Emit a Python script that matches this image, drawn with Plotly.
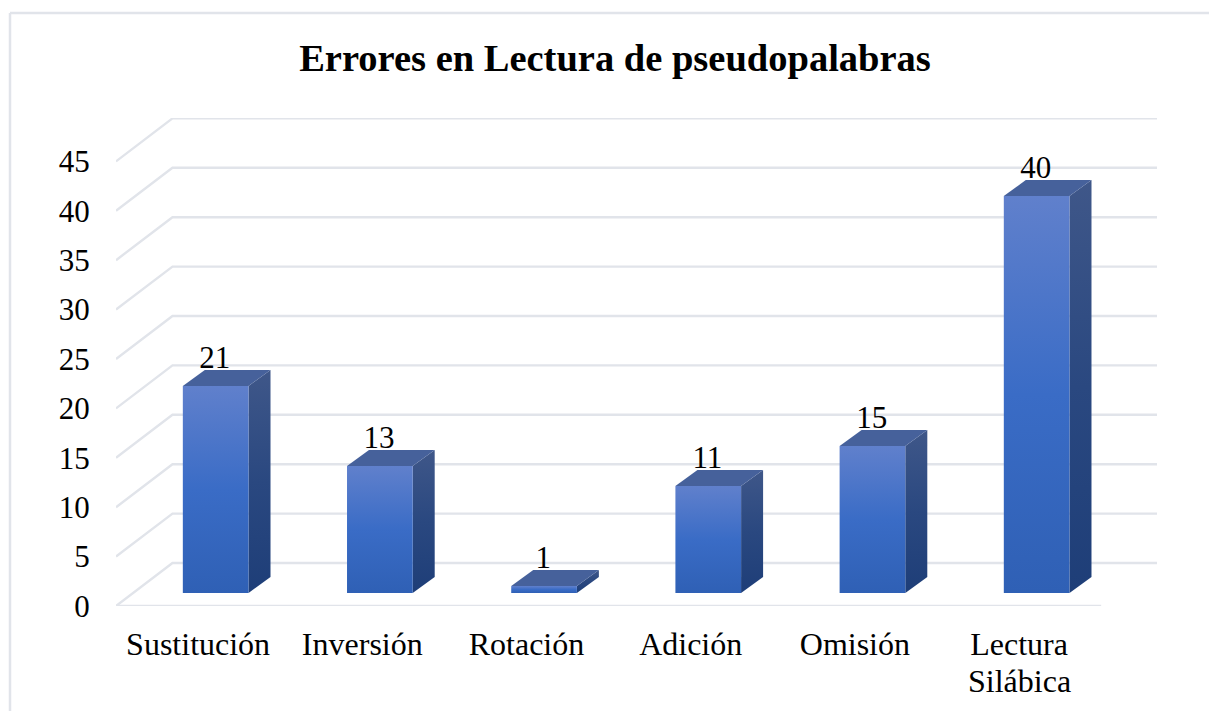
import plotly.graph_objects as go

TITLE = "Errores en Lectura de pseudopalabras"
categories = ["Sustitución", "Inversión", "Rotación", "Adición", "Omisión", "Lectura"]
second_line = "Silábica"
values = [21, 13, 1, 11, 15, 40]
y_ticks = [0, 5, 10, 15, 20, 25, 30, 35, 40, 45]

FONT = "Liberation Serif"
GRID = "#e1e4ea"
# oblique-projection parameters, in axis units
X = list(range(1, 7))
BAR_OFFSET = 0.107
BAR_W = 0.4
BAR_DX = 0.134
BAR_DY = 1.6
BASE = 0.3
WALL_DX = 0.344
WALL_DY = 4.3
GRID_ZERO = -1.0
GRID_SCALE = 0.988
X0, X1 = 0.5, 6.5

fig = go.Figure()


def grid_line(xs, ys):
    fig.add_trace(go.Scatter(x=xs, y=ys, mode="lines", line=dict(color=GRID, width=2.4),
                             hoverinfo="skip", showlegend=False))


for t in y_ticks:
    f = GRID_ZERO + t * GRID_SCALE
    b = f + WALL_DY
    grid_line([X0, X0 + WALL_DX, X1 + WALL_DX], [f, b, b])
grid_line([X0, X1], [GRID_ZERO, GRID_ZERO])


def face(xs, ys, stops):
    n = len(stops) - 1
    fig.add_trace(go.Scatter(
        x=xs, y=ys, mode="lines", fill="toself", line=dict(width=0),
        fillgradient=dict(type="vertical",
                          colorscale=[[i / n, c] for i, c in enumerate(stops)]),
        hoverinfo="skip", showlegend=False))


for cx, v in zip(X, values):
    l = cx + BAR_OFFSET - BAR_W / 2
    r = l + BAR_W
    # right side
    face([r, r + BAR_DX, r + BAR_DX, r], [BASE, BASE + BAR_DY, v + BAR_DY, v],
         ["#1e3e78", "#2a4880", "#3f5789"])
    # top
    face([l, r, r + BAR_DX, l + BAR_DX], [v, v, v + BAR_DY, v + BAR_DY],
         ["#46619b", "#46619b"])
    # front
    face([l, r, r, l], [BASE, BASE, v, v],
         ["#2f60b5", "#3a6cc6", "#6080cc"])

fig.add_trace(go.Scatter(
    x=[c + BAR_OFFSET - 0.005 for c in X], y=[v + 2.55 for v in values],
    mode="text", text=[str(v) for v in values],
    textposition="middle center",
    textfont=dict(family=FONT, size=31, color="#000000"),
    cliponaxis=False, hoverinfo="skip", showlegend=False))

fig.update_layout(
    width=1209, height=711,
    autosize=False,
    margin=dict(l=116, r=52, t=118, b=105, pad=0),
    paper_bgcolor="#ffffff", plot_bgcolor="rgba(0,0,0,0)",
    showlegend=False,
    title=dict(text="<b>" + TITLE + "</b>", x=615 / 1209, xref="container", xanchor="center",
               y=1 - 58 / 711, yref="container", yanchor="middle",
               font=dict(family=FONT, size=38.5, color="#000000")),
    xaxis=dict(range=[0.5, 6.84], tickmode="array", tickvals=X, ticktext=categories,
               showgrid=False, zeroline=False, showline=False,
               ticks="outside", ticklen=10, tickcolor="rgba(0,0,0,0)",
               tickfont=dict(family=FONT, size=32, color="#000000")),
    yaxis=dict(range=[-1.0, 47.8], visible=False),
    yaxis2=dict(range=[0, 49.4], overlaying="y", side="left", anchor="x",
                tickmode="array", tickvals=y_ticks,
                showgrid=False, zeroline=False, showline=False,
                ticks="outside", ticklen=19, tickcolor="rgba(0,0,0,0)",
                tickfont=dict(family=FONT, size=31, color="#000000")),
    shapes=[
        dict(type="line", xref="paper", yref="paper", x0=-106 / 1041, x1=-106 / 1041,
             y0=-105 / 488, y1=(606 - 13) / 488, line=dict(color=GRID, width=2.5)),
        dict(type="line", xref="paper", yref="paper", x0=-106 / 1041, x1=(1209 - 116) / 1041,
             y0=(606 - 13) / 488, y1=(606 - 13) / 488, line=dict(color=GRID, width=2.5)),
    ],
    annotations=[dict(text=second_line, x=X[-1], xref="x", y=(606 - 681) / 488, yref="paper",
                      showarrow=False, xanchor="center", yanchor="middle",
                      font=dict(family=FONT, size=32, color="#000000"))],
)
# trace binding the label axis
fig.add_trace(go.Scatter(x=[X[0]], y=[y_ticks[0]], yaxis="y2", mode="markers",
                         marker=dict(opacity=0), hoverinfo="skip", showlegend=False))

fig.write_html("out.html", config={"displayModeBar": False},
               post_script="document.body.style.margin='0';document.body.style.overflow='hidden';")
